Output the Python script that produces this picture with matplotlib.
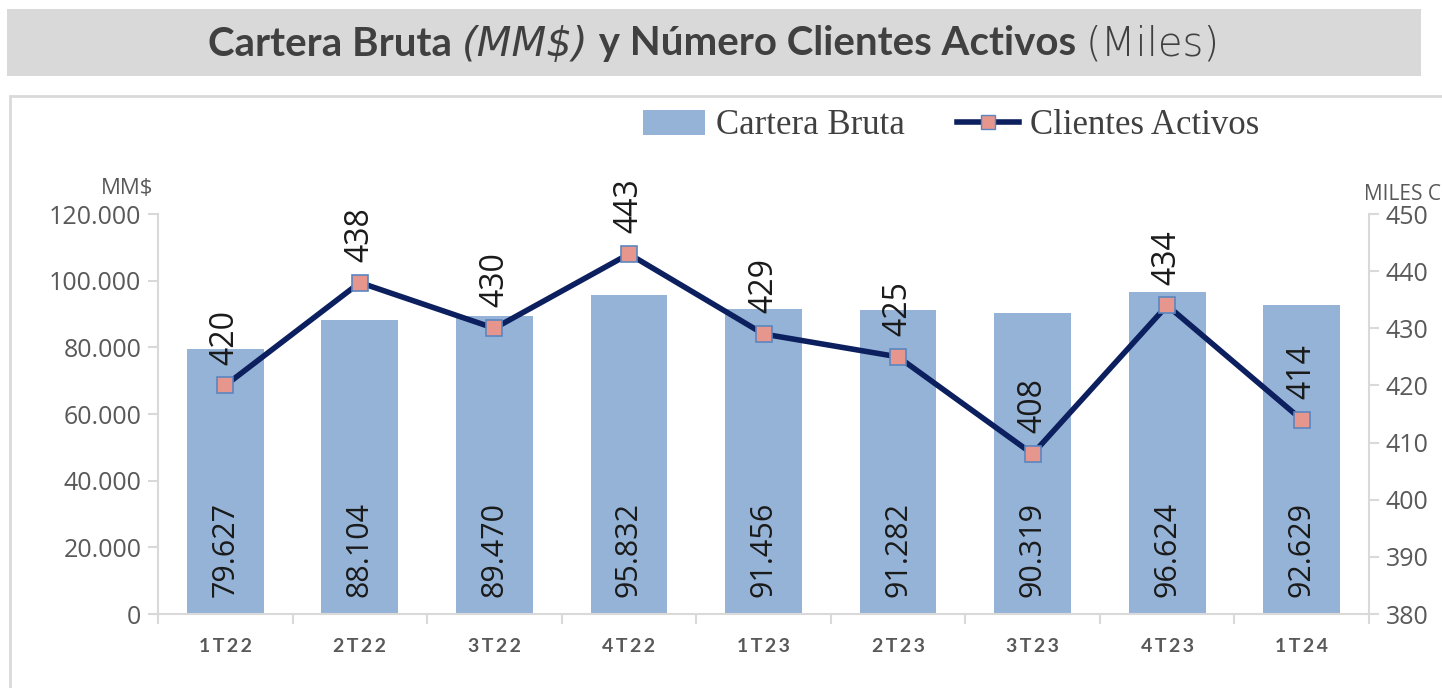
import matplotlib.pyplot as plt
from matplotlib.patches import Rectangle
from matplotlib.lines import Line2D
from matplotlib.patches import Patch

# data
quarters = ['1T22', '2T22', '3T22', '4T22', '1T23', '2T23', '3T23', '4T23', '1T24']
cartera = [79627, 88104, 89470, 95832, 91456, 91282, 90319, 96624, 92629]
clientes = [420, 438, 430, 443, 429, 425, 408, 434, 414]

bar_color = '#95b3d7'
line_color = '#0c1f5e'
marker_color = '#e6968c'
marker_edge = '#5b86c0'
tick_gray = '#595959'

W, H = 1442, 688
fig = plt.figure(figsize=(W / 100, H / 100), dpi=100)


def fx(px):
    return px / W


def fy(py):
    return 1 - py / H


# title band
fig.patches.append(Rectangle((fx(7), fy(76)), fx(1421) - fx(7), fy(9) - fy(76),
                             transform=fig.transFigure, facecolor='#d9d9d9',
                             edgecolor='none', zorder=-5))
# chart frame
fig.patches.append(Rectangle((fx(10), fy(700)), fx(1460) - fx(10), fy(96) - fy(700),
                             transform=fig.transFigure, facecolor='none',
                             edgecolor='#d9d9d9', lw=2, zorder=-5))

# composite title (mixed weights/styles)
pieces = [('Cartera Bruta ', 'bold', 'normal', 'Lato'),
          ('(MM$)', 'light', 'italic', 'DejaVu Sans'),
          (' y Número Clientes Activos ', 'bold', 'normal', 'Lato'),
          ('(Miles)', 'light', 'normal', 'DejaVu Sans')]
renderer = fig.canvas.get_renderer()
texts = []
for s, w, st, fam in pieces:
    t = fig.text(0, fy(44), s, fontsize=29, fontweight=w, fontstyle=st,
                 color='#404040', family=fam, va='center', ha='left')
    texts.append(t)
widths = [t.get_window_extent(renderer).width for t in texts]
x0 = (714 - sum(widths) / 2)
for t, wd in zip(texts, widths):
    t.set_x(x0 / W)
    x0 += wd

ax = fig.add_axes([fx(158), fy(614), fx(1369) - fx(158), fy(214) - fy(614)])
ax2 = ax.twinx()

x = list(range(len(quarters)))
ax.bar(x, cartera, width=0.57, color=bar_color, zorder=2)
ax.set_xlim(-0.5, len(quarters) - 0.5)
ax.set_ylim(0, 120000)
ax.set_yticks(range(0, 120001, 20000))
ax.set_yticklabels([f'{v:,}'.replace(',', '.') for v in range(0, 120001, 20000)],
                   fontsize=18, color=tick_gray, family='Open Sans')
ax.set_xticks(x)
ax.set_xticklabels(['\u2009'.join(q) for q in quarters], fontsize=14, fontweight='bold',
                   color=tick_gray, family=['Lato', 'DejaVu Sans'])
ax.set_xticks([i - 0.5 for i in range(len(quarters) + 1)], minor=True)
ax.tick_params(axis='x', which='major', length=0, pad=17)
ax.tick_params(axis='x', which='minor', length=7, color='#d9d9d9', width=1.5)
ax.tick_params(axis='y', length=7, color='#d9d9d9', width=1.5, pad=5)

for i, v in enumerate(cartera):
    ax.text(i, 5000, f'{v:,}'.replace(',', '.'), rotation=90, ha='center', va='bottom',
            fontsize=22, color='#1a1a1a', family='Open Sans', zorder=4)

ax2.plot(x, clientes, color=line_color, lw=4, marker='s', markersize=11,
         markerfacecolor=marker_color, markeredgecolor=marker_edge, markeredgewidth=1.2,
         zorder=5)
ax2.set_ylim(380, 450)
ax2.set_yticks(range(380, 451, 10))
ax2.set_yticklabels([str(v) for v in range(380, 451, 10)], fontsize=18,
                    color=tick_gray, family='Open Sans')
ax2.tick_params(axis='y', length=7, color='#d9d9d9', width=1.5, pad=5)
for i, v in enumerate(clientes):
    ax2.annotate(str(v), (i, v), xytext=(0, 15), textcoords='offset points',
                 rotation=90, ha='center', va='bottom', fontsize=23,
                 color='#1a1a1a', family='Open Sans')

for a in (ax, ax2):
    for sp in a.spines.values():
        sp.set_visible(False)
    a.set_facecolor('none')
ax.spines['left'].set_visible(True)
ax.spines['left'].set_color('#d9d9d9')
ax.spines['left'].set_linewidth(1.5)
ax.spines['bottom'].set_visible(True)
ax.spines['bottom'].set_color('#d9d9d9')
ax.spines['bottom'].set_linewidth(1.5)
ax2.spines['right'].set_visible(True)
ax2.spines['right'].set_color('#d9d9d9')
ax2.spines['right'].set_linewidth(1.5)

fig.text(fx(127), fy(188), 'MM$', fontsize=16, color=tick_gray, family='Open Sans',
         ha='center', va='center')
fig.text(fx(1364), fy(194), 'MILES C', fontsize=15, color=tick_gray, family='Open Sans',
         ha='left', va='center')

handles = [Patch(facecolor=bar_color, edgecolor='none'),
           Line2D([], [], color=line_color, lw=4, marker='s', markersize=10,
                  markerfacecolor=marker_color, markeredgecolor=marker_edge)]
leg = fig.legend(handles, ['Cartera Bruta', 'Clientes Activos'], loc='center',
                 bbox_to_anchor=(fx(951), fy(126)), ncol=2, frameon=False,
                 prop={'family': 'Liberation Serif', 'size': 25}, handlelength=1.8,
                 columnspacing=1.5, handletextpad=0.3)
for t in leg.get_texts():
    t.set_color('#404040')

fig.savefig('out.png', dpi=100)
